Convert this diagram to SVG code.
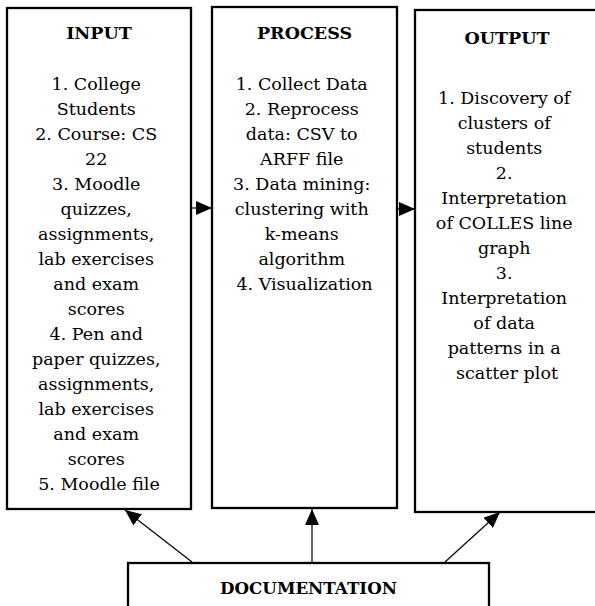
<svg xmlns="http://www.w3.org/2000/svg" width="595" height="606" viewBox="0 0 595 606">
<style>
.box{fill:#fff;stroke:#000;stroke-width:2.3}
.t{font-family:"DejaVu Serif","Liberation Serif",serif;font-size:17.5px;fill:#000;text-anchor:middle}
.h{font-weight:bold}
.d{font-size:16.7px}
.c{stroke:#000;stroke-width:1.2;fill:none}
</style>
<defs>
<marker id="ah" markerUnits="userSpaceOnUse" markerWidth="16" markerHeight="14" refX="16" refY="7" orient="auto">
<path d="M0,0 L16,7 L0,14 z" fill="#000"/>
</marker>
</defs>
<g id="input">
<rect class="box" x="7" y="8" width="184" height="501"/>
<text class="t h" x="99" y="39">INPUT</text>
<text class="t" x="99" y="90">
<tspan x="99" dy="0">1. College</tspan>
<tspan x="99" dy="25">Students</tspan>
<tspan x="99" dy="25">2. Course: CS</tspan>
<tspan x="99" dy="25">22</tspan>
<tspan x="99" dy="25">3. Moodle</tspan>
<tspan x="99" dy="25">quizzes,</tspan>
<tspan x="99" dy="25">assignments,</tspan>
<tspan x="99" dy="25">lab exercises</tspan>
<tspan x="99" dy="25">and exam</tspan>
<tspan x="99" dy="25">scores</tspan>
<tspan x="99" dy="25">4. Pen and</tspan>
<tspan x="99" dy="25">paper quizzes,</tspan>
<tspan x="99" dy="25">assignments,</tspan>
<tspan x="99" dy="25">lab exercises</tspan>
<tspan x="99" dy="25">and exam</tspan>
<tspan x="99" dy="25">scores</tspan>
<tspan x="99" dy="25">5. Moodle file</tspan>
</text>
</g>
<g id="process">
<rect class="box" x="212" y="7" width="185" height="501"/>
<text class="t h" x="304.5" y="39">PROCESS</text>
<text class="t" x="304.5" y="89.5">
<tspan x="304.5" dy="0">1. Collect Data</tspan>
<tspan x="304.5" dy="25">2. Reprocess</tspan>
<tspan x="304.5" dy="25">data: CSV to</tspan>
<tspan x="304.5" dy="25">ARFF file</tspan>
<tspan x="304.5" dy="25">3. Data mining:</tspan>
<tspan x="304.5" dy="25">clustering with</tspan>
<tspan x="304.5" dy="25">k-means</tspan>
<tspan x="304.5" dy="25">algorithm</tspan>
<tspan x="304.5" dy="25">4. Visualization</tspan>
</text>
</g>
<g id="output">
<rect class="box" x="415" y="10" width="190" height="502"/>
<text class="t h" x="507" y="44">OUTPUT</text>
<text class="t" x="507" y="104">
<tspan x="507" dy="0">1. Discovery of</tspan>
<tspan x="507" dy="25">clusters of</tspan>
<tspan x="507" dy="25">students</tspan>
<tspan x="507" dy="25">2.</tspan>
<tspan x="507" dy="25">Interpretation</tspan>
<tspan x="507" dy="25">of COLLES line</tspan>
<tspan x="507" dy="25">graph</tspan>
<tspan x="507" dy="25">3.</tspan>
<tspan x="507" dy="25">Interpretation</tspan>
<tspan x="507" dy="25">of data</tspan>
<tspan x="507" dy="25">patterns in a</tspan>
<tspan x="507" dy="25">scatter plot</tspan>
</text>
</g>
<g id="documentation">
<rect class="box" x="128" y="563" width="361" height="60"/>
<text class="t h d" x="308.5" y="594">DOCUMENTATION</text>
</g>
<g id="connectors">
<line class="c" x1="191" y1="208" x2="212" y2="208" marker-end="url(#ah)"/>
<line class="c" x1="397" y1="209" x2="415" y2="209" marker-end="url(#ah)"/>
<line class="c" x1="192" y1="562" x2="125" y2="510" marker-end="url(#ah)"/>
<line class="c" x1="312" y1="562" x2="312" y2="509" marker-end="url(#ah)"/>
<line class="c" x1="445" y1="562" x2="500" y2="512" marker-end="url(#ah)"/>
</g>
</svg>
